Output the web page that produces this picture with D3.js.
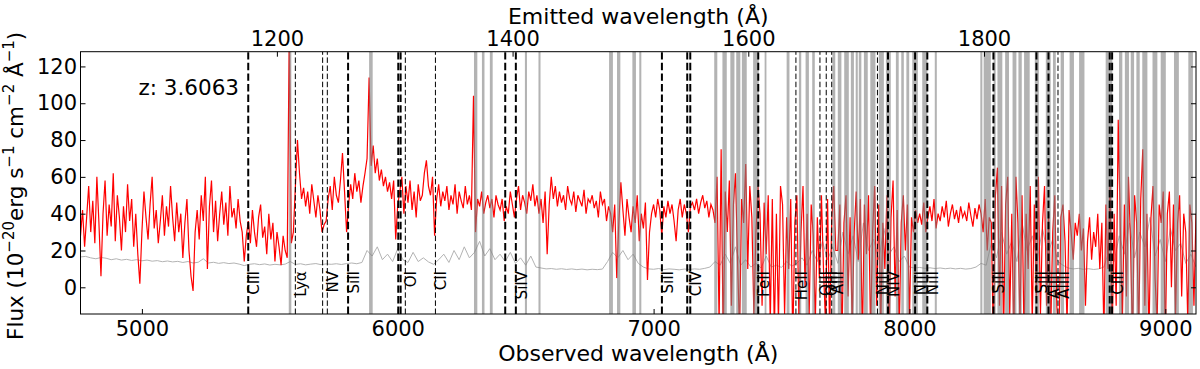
<!DOCTYPE html>
<html>
<head>
<meta charset="utf-8">
<script src="https://cdn.jsdelivr.net/npm/d3@7"></script>
<style>
  body { margin: 0; background: #fff; }
  svg { font-family: "DejaVu Sans", sans-serif; }
</style>
</head>
<body>
<svg id="chart" width="1200" height="369"></svg>
<script>
const redshift = 3.6063;

// flux spectrum, observed wavelength grid starts at fluxStart, one value every fluxStep A
const fluxStart = 4760;
const fluxStep = 8;
const flux = [
  28, 42, 22, 38, 55, 30, 47, 24, 60, 35,
  6, 40, 58, 28, 45, 33, 62, 25, 50, 38,
  20, 44, 30, 56, 36, 48, 22, 40, 18, 2,
  30, 52, 38, 26, 45, 60, 32, 42, 24, 36,
  50, 28, 44, 33, 55, 38, 25, 46, 30, 40,
  16, 35, 48, 20, 6, -2, 30, 42, 26, 50,
  36, 60, 10, 44, 58, 30, 47, 25, 40, 52,
  34, 46, 28, 55, 38, 43, 32, 48, 36, 30,
  14, 28, 36, 24, 42, 30, 22, 38, 45, 27,
  33, 18, 40, 26, 35, 14, 30, 22, 12, 28,
  20, 16, 140, 24, 30, 55, 80, 62, 48, 54,
  44, 52, 40, 56, 47, 38, 50, 42, 30, 34,
  36, 48, 55, 42, 60, 50, 46, 58, 73, 52,
  30, 45, 56, 48, 62, 52, 58, 46, 55, 62,
  70, 114, 66, 77, 62, 70, 58, 64, 55, 60,
  52, 57, 48, 58, 26, 45, 52, 60, 40, 55,
  46, 58, 42, 52, 38, 56, 47, 50, 62, 69,
  55, 50, 60, 28, 48, 56, 44, 52, 47, 55,
  42, 50, 45, 56, 40, 52, 47, 43, 55, 45,
  50, 42, 104, 30, 48, 44, 52, 40, 46, 50,
  43, 48, 38, 50, 45, 42, 48, 36, 44, 40,
  52, 45, 38, 48, 55, 42, 50, 46, 40, 52,
  47, 56, 44, 50, 40, 48, 35, 52, 18, 45,
  60, 48, 55, 44, 52, 46, 50, 42, 55, 48,
  45, 52, 41, 50, 47, 44, 53, 40, 48, 46,
  50, 43, 47, 38, 52, 45, 48, 36, 44, 40,
  30, 45, 5, 35, 57, 42, 28, 48, 38, 30,
  44, 35, 50, 25, 40, 32, 46, 4, 30, 40,
  45, 38, 48, 42, 28, 44, 38, 47, 40, 45,
  36, 25, 42, 48, 38, 45, 40, 30, 44, 46,
  42, 48, 40, 46, 50, 43, 47, 38, 45, 42,
  35, 60, -20, 75, -30, 52, 30, 58, -10, 45,
  62, 15, -25, 48, 35, 67, 10, 55, 38, -15,
  30, 55, 40, -10, 46, 18, 50, -20, 48, -25,
  40, -20, 55, 45, -15, 38, 10, 48, -30, 35,
  50, -18, 30, 55, 0, 40, -15, 45, 28, -20,
  38, 5, 50, 10, -20, 48, -25, 36, 55, 20,
  20, 45, -30, 35, 50, -5, 38, -20, 30, 52,
  15, 48, -30, 45, 18, 50, -25, 30, 55, -10,
  45, -20, 35, 10, 50, -30, 38, 58, -5, 42,
  -25, 35, 50, 20, 45, -18, 38, 30, 42, 35,
  40, 34, 46, 30, 38, 44, 36, 48, 32, 40,
  36, 44, 38, 47, 33, 40, 45, 37, 42, 35,
  44, 38, 41, 36, 46, 39, 33, 43, 37, 45,
  40, 30, 48, 20, 38, 35, -30, 50, 65, -10,
  55, -25, 45, 60, -15, 40, -30, 60, 35, -20,
  50, -28, 40, 10, 55, -20, 45, -5, 60, -15,
  35, 55, -10, 40, -25, 30, 50, -10, -30, 38,
  45, 25, -20, 42, 30, 15, 35, 28, 40, 20,
  32, -10, 25, 38, 15, 30, 22, 40, 10, 35,
  -25, 45, 10, 55, -30, 40, -10, 91, 35, -20,
  45, -5, 60, 25, -30, 50, 35, -25, 48, 75,
  -10, 40, -28, 38, 55, 5, -20, 45, 35, 52,
  -30, 40, 52, 0, 45, -15, 35, 50, -5, 40,
  30, -20, 45, 35, -10, 40
];

// error spectrum, one value every errStep A
const errStart = 4760;
const errStep = 20;
const fluxErr = [
  16.5, 16.8, 16, 15.5, 16.2, 15.8, 15, 15.5, 14.8, 15.2,
  14.6, 15, 14.4, 14.8, 14.2, 14.5, 13.9, 14.3, 13.8, 14.1,
  13.5, 14, 13.2, 13.6, 15.5, 13.2, 13.6, 13, 13.4, 12.9,
  13.2, 12.6, 11.8, 12.5, 12.8, 12.3, 12.7, 12.1, 12.5, 12.2,
  12.6, 14, 12.4, 12.8, 12.2, 12.6, 12.9, 12.3, 12.7, 12.5,
  12.8, 12.4, 12.9, 13.2, 12.8, 13.5, 20, 17, 22, 15,
  18, 14, 21, 15, 13.5, 19, 14, 16, 13.8, 12.5,
  15, 18, 13.5, 20, 15, 22, 16, 19, 25, 17,
  21, 15, 18, 14, 19, 13, 16, 12, 17, 11,
  10.5, 10, 10.2, 9.8, 10.1, 9.7, 10, 9.6, 9.9, 9.5,
  9.8, 9.6, 9.9, 14, 19, 16, 20, 15, 18, 13,
  11, 10, 9.8, 10.2, 9.6, 10, 9.8, 9.5, 9.9, 9.7,
  10, 9.8, 10.3, 11, 14, 12, 18, 13, 22, 12,
  15, 11, 13, 10.5, 17, 11, 12, 10.8, 14, 11.5,
  13, 16, 12, 20, 14, 25, 15, 22, 13, 30,
  18, 28, 14, 35, 20, 26, 15, 32, 18, 22,
  14, 17, 11, 10.5, 10.8, 10.3, 10.6, 10.2, 10.5, 10.1,
  10.4, 10, 10.3, 9.9, 10.2, 11, 13, 12, 24, 16,
  30, 18, 25, 14, 35, 20, 28, 15, 32, 18,
  26, 14, 12, 10.5, 10, 10.3, 9.8, 10.1, 9.7, 10,
  11, 20, 14, 28, 18, 35, 16, 30, 22, 38,
  17, 26, 14, 32, 20, 24, 13, 18, 11
];

// masked sky lines, observed wavelength [from, to]
const skyBands = [
  [5574, 5584], [5888, 5902], [6298, 6311], [6329, 6339], [6360, 6371],
  [6497, 6505], [6550, 6558], [6826, 6841], [6857, 6870], [6917, 6931],
  [6944, 6952], [7237, 7249], [7269, 7286], [7300, 7316], [7323, 7339],
  [7345, 7364], [7389, 7411], [7434, 7441], [7520, 7531], [7568, 7577],
  [7594, 7607], [7620, 7630], [7699, 7710], [7720, 7734], [7745, 7763],
  [7771, 7783], [7790, 7798], [7802, 7812], [7822, 7837], [7847, 7867],
  [7880, 7900], [7908, 7927], [7947, 7958], [7968, 7978], [7988, 7999],
  [8011, 8033], [8050, 8070], [8099, 8107], [8277, 8285], [8290, 8318],
  [8329, 8337], [8344, 8363], [8374, 8389], [8403, 8418], [8426, 8439],
  [8448, 8470], [8490, 8506], [8533, 8552], [8561, 8572], [8591, 8604],
  [8626, 8643], [8663, 8684], [8767, 8793], [8819, 8832], [8842, 8858],
  [8865, 8878], [8887, 8900], [8910, 8930], [8950, 8969], [8982, 9002],
  [9034, 9053], [9090, 9108]
];

// rest-frame lines marked with dashes
const lineRest = [1175.7, 1215.67, 1238.82, 1242.80, 1260.42, 1303.0, 1305.0, 1309.0,
  1334.53, 1393.76, 1402.77, 1526.71, 1548.20, 1550.77, 1608.45, 1640.42,
  1660.81, 1666.15, 1670.79, 1709.6, 1718.55, 1741.55, 1751.91, 1808.01,
  1844.5, 1854.72, 1862.79, 1906.68, 1908.73];
const lineNames = ["CIII", "Lyα", "", "NV", "SiII", "", "", "OI",
  "CII", "", "SiIV", "SiII", "", "CIV", "FeII", "HeII",
  "OIII", "OIII", "AlII", "NiII", "NIV", "NiII", "NiII", "SiII",
  "SiII", "AlIII", "AlIII", "", "CIII"];
const lineStrong = [1, 0, 0, 0, 1, 1, 1, 0,
  0, 1, 1, 1, 1, 1, 1, 0,
  0, 0, 0, 0, 1, 1, 1, 1,
  1, 1, 0, 1, 1];

const xTicks = [5000, 6000, 7000, 8000, 9000];
const restTicks = [1200, 1400, 1600, 1800];
const yTicks = [0, 20, 40, 60, 80, 100, 120];

const svg = d3.select("#chart");
const plotL = 80.5, plotR = 1196, plotT = 51.7, plotB = 314;

const x = d3.scaleLinear().domain([4760, 9120]).range([plotL, plotR]);
const xRest = d3.scaleLinear()
  .domain([4760 / (1 + redshift), 9120 / (1 + redshift)])
  .range([plotL, plotR]);
const y = d3.scaleLinear().domain([-14.5, 128]).range([plotB, plotT]);

svg.append("clipPath").attr("id", "plot-clip")
  .append("rect")
  .attr("x", plotL).attr("y", plotT)
  .attr("width", plotR - plotL).attr("height", plotB - plotT);

const plot = svg.append("g").attr("clip-path", "url(#plot-clip)");

// error spectrum
plot.append("path")
  .datum(fluxErr)
  .attr("fill", "none")
  .attr("stroke", "#b3b3b3")
  .attr("stroke-width", 1)
  .attr("d", d3.line().x((d, i) => x(errStart + i * errStep)).y(d => y(d)));

// flux
plot.append("path")
  .datum(flux)
  .attr("fill", "none")
  .attr("stroke", "#ff0000")
  .attr("stroke-width", 1.2)
  .attr("d", d3.line().x((d, i) => x(fluxStart + i * fluxStep)).y(d => y(d)));

// sky masks drawn over the spectrum
plot.selectAll("rect.sky")
  .data(skyBands)
  .enter()
  .append("rect")
  .attr("class", "sky")
  .attr("x", d => x(d[0]))
  .attr("y", plotT)
  .attr("width", d => Math.max(1.5, x(d[1]) - x(d[0])))
  .attr("height", plotB - plotT)
  .attr("fill", "#808080")
  .attr("fill-opacity", 0.6);

// line markers
plot.selectAll("line.marker")
  .data(lineRest)
  .enter()
  .append("line")
  .attr("class", "marker")
  .attr("x1", d => xRest(d)).attr("x2", d => xRest(d))
  .attr("y1", plotB).attr("y2", plotT)
  .attr("stroke", "#000")
  .attr("stroke-width", (d, i) => lineStrong[i] ? 2 : 1)
  .attr("stroke-dasharray", (d, i) => lineStrong[i] ? "7.4,3.2" : "5.5,2.6");

plot.selectAll("text.marker-label")
  .data(lineRest)
  .enter()
  .append("text")
  .attr("class", "marker-label")
  .attr("transform", d => `translate(${xRest(d) + 11},271) rotate(-90)`)
  .attr("text-anchor", "end")
  .attr("font-size", 15)
  .attr("fill", "#000")
  .text((d, i) => lineNames[i]);

// axes, ticks pointing in
const bottomAxis = svg.append("g")
  .attr("transform", `translate(0,${plotB})`)
  .call(d3.axisBottom(x).tickValues(xTicks).tickSize(-5).tickPadding(7).tickFormat(d3.format("d")));
const topAxis = svg.append("g")
  .attr("transform", `translate(0,${plotT})`)
  .call(d3.axisTop(xRest).tickValues(restTicks).tickSize(-5).tickPadding(5.5).tickFormat(d3.format("d")));
const leftAxis = svg.append("g")
  .attr("transform", `translate(${plotL},0)`)
  .call(d3.axisLeft(y).tickValues(yTicks).tickSize(-5).tickPadding(3.5));
const rightAxis = svg.append("g")
  .attr("transform", `translate(${plotR},0)`)
  .call(d3.axisRight(y).tickValues(yTicks).tickSize(-5).tickFormat(""));

[bottomAxis, topAxis, leftAxis, rightAxis].forEach(g => {
  g.attr("font-family", null).attr("font-size", null);
  g.select(".domain").remove();
  g.selectAll("line").attr("stroke", "#000").attr("stroke-width", 1);
  g.selectAll("text").attr("font-size", 21).attr("fill", "#000");
});

// frame
svg.append("rect")
  .attr("x", plotL).attr("y", plotT)
  .attr("width", plotR - plotL).attr("height", plotB - plotT)
  .attr("fill", "none")
  .attr("stroke", "#000")
  .attr("stroke-width", 1);

svg.append("text")
  .attr("x", (plotL + plotR) / 2).attr("y", 361)
  .attr("text-anchor", "middle")
  .attr("font-size", 22)
  .text("Observed wavelength (Å)");

svg.append("text")
  .attr("x", (plotL + plotR) / 2).attr("y", 23.5)
  .attr("text-anchor", "middle")
  .attr("font-size", 22)
  .text("Emitted wavelength (Å)");

svg.append("text")
  .attr("x", 239).attr("y", 95)
  .attr("text-anchor", "end")
  .attr("font-size", 21.5)
  .text("z: " + redshift.toFixed(4));

// y label with superscripts
const ylab = svg.append("text")
  .attr("transform", `translate(23,${(plotT + plotB) / 2 + 3}) rotate(-90)`)
  .attr("text-anchor", "middle")
  .attr("font-size", 21.5);
const ylabParts = [["Flux (10", 0], ["−20", 1], ["erg s", 0], ["−1", 1], [" cm", 0], ["−2", 1], [" Å", 0], ["−1", 1], [")", 0]];
let raised = false;
ylabParts.forEach(([t, sup]) => {
  const ts = ylab.append("tspan").text(t);
  if (sup && !raised) { ts.attr("dy", -9).attr("font-size", 15); raised = true; }
  else if (sup) { ts.attr("font-size", 15); }
  else if (raised) { ts.attr("dy", 9); raised = false; }
});
</script>
</body>
</html>
